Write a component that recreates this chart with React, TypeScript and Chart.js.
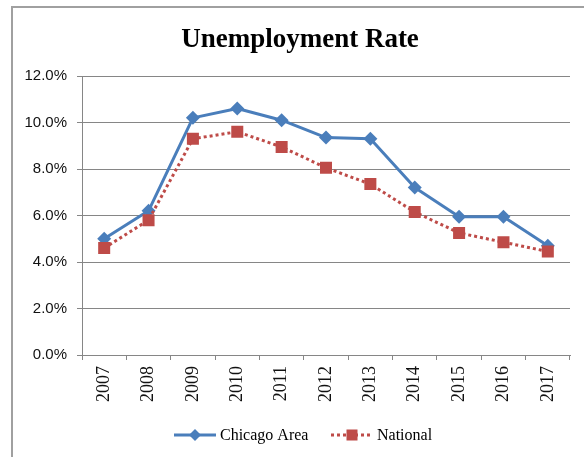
import React, { useEffect, useRef } from "react";
import { Chart, registerables } from "chart.js";

Chart.register(...registerables);

const years = ["2007", "2008", "2009", "2010", "2011", "2012", "2013", "2014", "2015", "2016", "2017"];
const chicagoArea = [5.0, 6.2, 10.2, 10.6, 10.1, 9.35, 9.3, 7.2, 5.95, 5.95, 4.7];
const national = [4.6, 5.8, 9.3, 9.6, 8.95, 8.05, 7.35, 6.15, 5.25, 4.85, 4.45];
const yTicks = [0, 2, 4, 6, 8, 10, 12];
const seriesNames = ["Chicago Area", "National"];
const titleText = "Unemployment Rate";

const BLUE = "#4a7ebb";
const RED = "#be4b48";
const GRID = "#868686";

const legendPlugin = {
  id: "customLegend",
  afterDraw(chart: any) {
    const ctx = chart.ctx;
    ctx.save();
    // title
    ctx.font = "bold 27px 'Liberation Serif'";
    ctx.textAlign = "center";
    ctx.textBaseline = "middle";
    ctx.fillStyle = "#000";
    ctx.fillText(titleText, 300, 40);
    ctx.textAlign = "left";

    const y = 435;
    ctx.font = "16px 'Liberation Serif'";
    ctx.textBaseline = "middle";
    // Chicago Area
    let x = 174;
    ctx.strokeStyle = BLUE;
    ctx.lineWidth = 3;
    ctx.setLineDash([]);
    ctx.beginPath();
    ctx.moveTo(x, y);
    ctx.lineTo(x + 42, y);
    ctx.stroke();
    ctx.fillStyle = BLUE;
    ctx.beginPath();
    ctx.moveTo(x + 21 - 6, y);
    ctx.lineTo(x + 21, y - 6);
    ctx.lineTo(x + 21 + 6, y);
    ctx.lineTo(x + 21, y + 6);
    ctx.closePath();
    ctx.fill();
    ctx.fillStyle = "#000";
    ctx.fillText(seriesNames[0], x + 46, y + 1);
    // National
    x = 331;
    ctx.strokeStyle = RED;
    ctx.lineWidth = 3;
    ctx.setLineDash([3, 3]);
    ctx.beginPath();
    ctx.moveTo(x, y);
    ctx.lineTo(x + 41, y);
    ctx.stroke();
    ctx.setLineDash([]);
    ctx.fillStyle = RED;
    ctx.fillRect(x + 21 - 5.5, y - 5.5, 11, 11);
    ctx.fillStyle = "#000";
    ctx.fillText(seriesNames[1], x + 46, y + 1);
    ctx.restore();
  },
};

export default function App() {
  const ref = useRef<HTMLCanvasElement | null>(null);
  useEffect(() => {
    if (!ref.current) return;
    const chart = new Chart(ref.current, {
      type: "line",
      data: {
        labels: years,
        datasets: [
          {
            label: seriesNames[0],
            data: chicagoArea,
            borderColor: BLUE,
            backgroundColor: BLUE,
            borderWidth: 3,
            borderJoinStyle: "round",
            pointStyle: "rectRot",
            pointRadius: 7,
            pointBorderWidth: 0,
            pointBackgroundColor: BLUE,
            tension: 0,
            order: 2,
          },
          {
            label: seriesNames[1],
            data: national,
            borderColor: RED,
            backgroundColor: RED,
            borderWidth: 3,
            borderDash: [3, 3],
            pointStyle: "rect",
            pointRadius: 8.5,
            pointBorderWidth: 0,
            pointBackgroundColor: RED,
            tension: 0,
            order: 1,
          },
        ],
      },
      options: {
        responsive: false,
        animation: false,
        layout: { padding: { left: 0, right: 14, top: 76, bottom: 52 } },
        plugins: {
          legend: { display: false },
          tooltip: { enabled: false },
          title: { display: false },
        },
        scales: {
          x: {
            type: "category",
            offset: true,
            grid: { display: true, drawOnChartArea: false, drawTicks: true, tickLength: 5, offset: true, color: GRID },
            border: { color: GRID, width: 1 },
            ticks: {
              color: "#111",
              font: { family: "'Liberation Serif'", size: 18 },
              minRotation: 90,
              maxRotation: 90,
              padding: 6,
            },
            afterFit: (s: any) => {
              s.height = 50;
            },
          },
          y: {
            min: 0,
            max: 12,
            afterBuildTicks: (s: any) => {
              s.ticks = yTicks.map((v) => ({ value: v }));
            },
            grid: { color: GRID, tickLength: 5, drawTicks: true },
            border: { color: GRID, width: 1 },
            ticks: {
              color: "#111",
              font: { family: "'Liberation Sans'", size: 15 },
              padding: 10,
              callback: (v: any) => Number(v).toFixed(1) + "%",
            },
            afterFit: (s: any) => {
              s.width = 82;
            },
          },
        },
      },
      plugins: [legendPlugin],
    });
    return () => chart.destroy();
  }, []);
  return (
    <div style={{ position: "fixed", left: 0, top: 0, width: 584, height: 457, background: "#fff", overflow: "hidden" }}>
      <div
        style={{
          position: "absolute",
          left: 11,
          top: 6,
          width: 620,
          height: 500,
          borderTop: "2px solid #a0a0a0",
          borderLeft: "2px solid #a0a0a0",
        }}
      />
      <canvas ref={ref} width={584} height={457} style={{ position: "absolute", left: 0, top: 0, width: 584, height: 457 }} />
    </div>
  );
}
